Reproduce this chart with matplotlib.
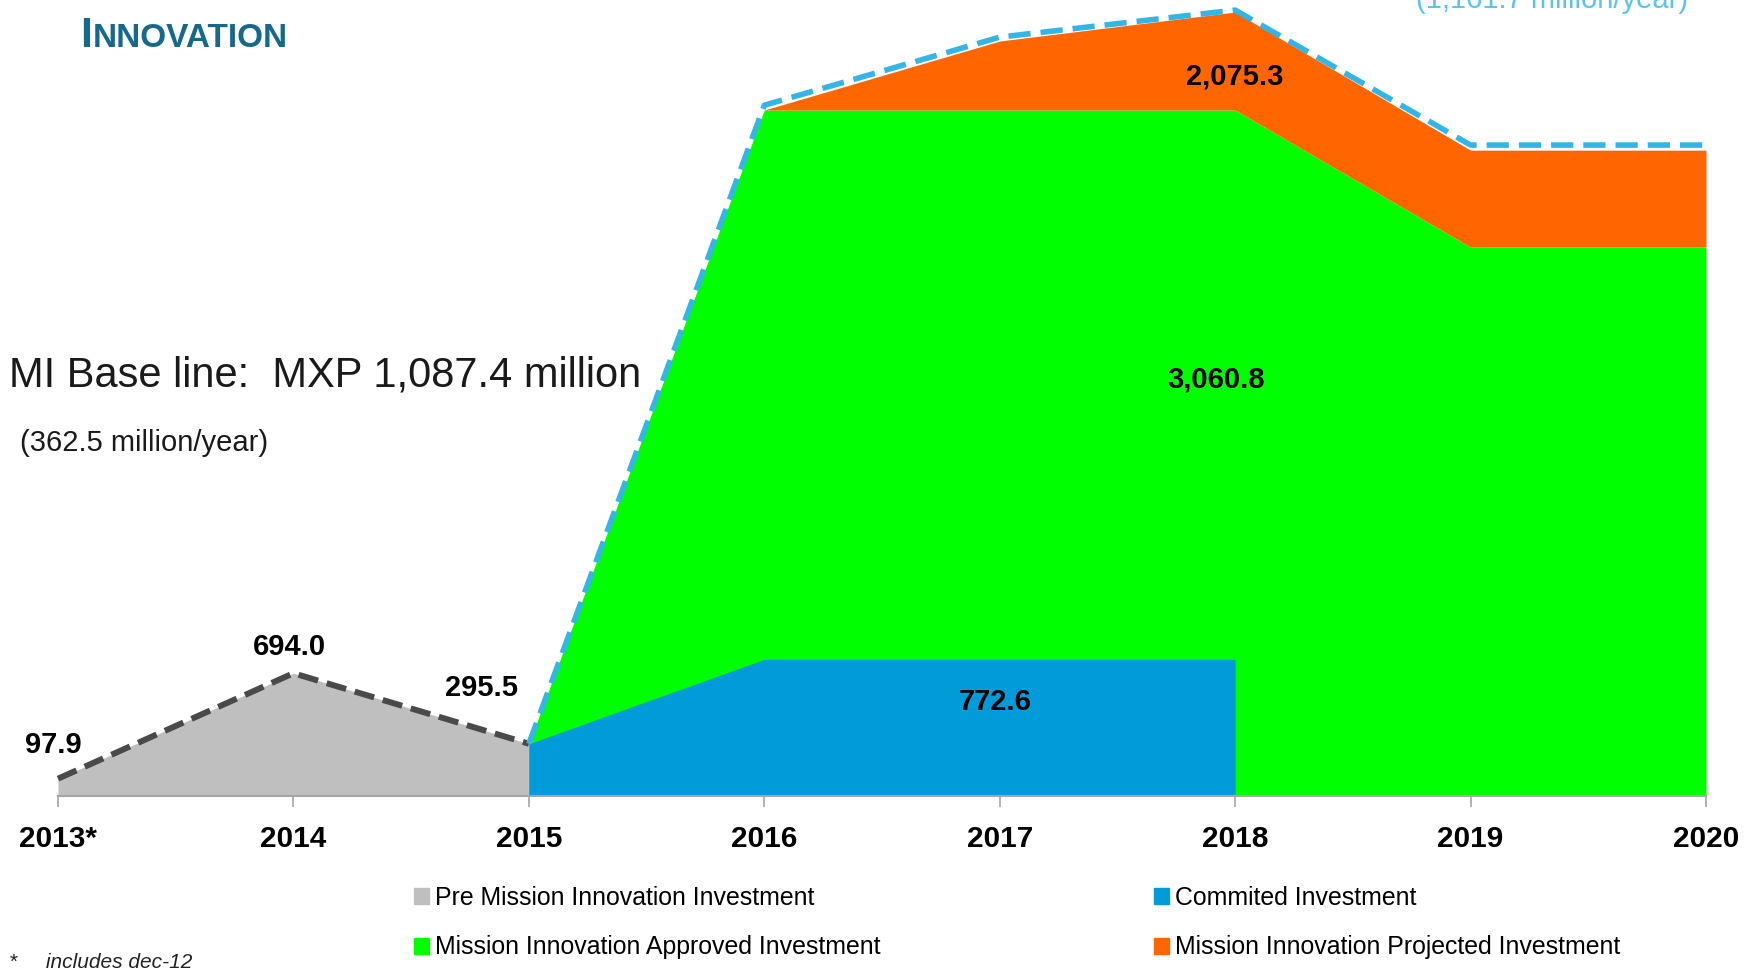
import matplotlib.pyplot as plt
from matplotlib import font_manager
from matplotlib.font_manager import FontProperties
from matplotlib.patches import Patch

# narrow face if one is installed (reference uses an Arial Narrow look)
def find_face(bold=False):
    for f in font_manager.fontManager.ttflist:
        fn = f.fname.lower().split('/')[-1]
        if 'notosans' not in fn or 'condensed' not in fn:
            continue
        if 'semi' in fn.replace('semibold', '') or 'extra' in fn.replace('extrabold', '').replace('extralight', ''):
            continue
        if 'italic' in fn:
            continue
        w = fn.replace('notosans', '').replace('condensed', '').replace('-', '').replace('.ttf', '')
        if bold and w == 'bold':
            return f.fname
        if not bold and w in ('', 'regular'):
            return f.fname
    return None

nar_reg = find_face()
nar_bold = find_face(bold=True)
regular = 'Liberation Sans'

def nfont(size, bold=False):
    path = nar_bold if bold else nar_reg
    if path:
        return FontProperties(fname=path, size=size)
    return FontProperties(family=regular, weight='bold' if bold else 'normal', size=size)

# data (MXP million)
years = [2013, 2014, 2015, 2016, 2017, 2018, 2019, 2020]
year_labels = ['2013*', '2014', '2015', '2016', '2017', '2018', '2019', '2020']

pre_years = [2013, 2014, 2015]
pre_mission = [97.9, 694.0, 295.5]

mi_years = [2015, 2016, 2017, 2018, 2019, 2020]
committed_years = [2015, 2016, 2017, 2018]
committed = [295.5, 772.6, 772.6, 772.6]
approved_top = [295.5, 3878, 3878, 3878, 3103, 3103]
projected_top = [295.5, 3878, 4268, 4432, 3651, 3651]
total_line = [295.5, 3905, 4290, 4443, 3680, 3680]

value_labels = ['97.9', '694.0', '295.5', '772.6', '3,060.8', '2,075.3']

c_gray = '#bfbfbf'
c_blue = '#009bd8'
c_green = '#00ff00'
c_orange = '#ff6600'
c_cyan = '#33b5e6'
c_dark = '#4a4a4a'

fig = plt.figure(figsize=(17.48, 9.73), dpi=100)
renderer = fig.canvas.get_renderer()

def fit(s, target_px, bold=False):
    t = fig.text(0, 0, s, fontproperties=nfont(20, bold))
    w = t.get_window_extent(renderer).width
    t.remove()
    return 20 * target_px / w

tick_size = fit('2014', 66, bold=True)
lab_size = fit('694.0', 73, bold=True)
leg_size = fit('Pre Mission Innovation Investment', 380)

ax = fig.add_axes([58/1748, 1-796/973, (1706-58)/1748, 796/973])

ax.fill_between(pre_years, 0, pre_mission, color=c_gray, lw=0, zorder=1)
ax.fill_between(mi_years, 0, approved_top, color=c_green, lw=0, zorder=2)
ax.fill_between(mi_years, approved_top, projected_top, color=c_orange, lw=0, zorder=2)
ax.fill_between(committed_years, 0, committed, color=c_blue, lw=0, zorder=3)

ax.plot(pre_years, pre_mission, color=c_dark, lw=4.3, dashes=(3.4, 1.5), zorder=5,
        solid_capstyle='butt', clip_on=False)
ax.plot(mi_years, total_line, color=c_cyan, lw=4, dashes=(4, 1.8), zorder=5, clip_on=False)

ax.set_xlim(2013, 2020)
ax.set_ylim(0, 4500)
for s in ['top', 'left', 'right']:
    ax.spines[s].set_visible(False)
ax.spines['bottom'].set_color('#a6a6a6')
ax.spines['bottom'].set_linewidth(1.5)
ax.spines['bottom'].set_zorder(6)
ax.set_yticks([])
ax.set_xticks(years)
ax.set_xticklabels(year_labels, fontproperties=nfont(tick_size, bold=True))
ax.tick_params(axis='x', direction='out', length=8, width=1.2, color='#a6a6a6', pad=13)

# value labels
lab_kw = dict(fontproperties=nfont(lab_size, bold=True), ha='center', va='center', zorder=7)
ax.text(2012.98, 288, value_labels[0], **lab_kw)
ax.text(2013.985, 842, value_labels[1], **lab_kw)
ax.text(2014.8, 610, value_labels[2], **lab_kw)
ax.text(2016.98, 531, value_labels[3], **lab_kw)
ax.text(2017.92, 2357, value_labels[4], **lab_kw)
ax.text(2018.0, 4070, value_labels[5], **lab_kw)

# annotations
fig.text(9/1748, 1-376/973, 'MI Base line:  MXP 1,087.4 million', fontfamily=regular,
         fontsize=30, color='#1a1a1a', ha='left', va='center')
fig.text(20/1748, 1-443/973, '(362.5 million/year)', fontfamily=regular,
         fontsize=21, color='#1a1a1a', ha='left', va='center')
fig.text(1416/1748, 1-8/973, '(1,161.7 million/year)', fontfamily=regular,
         fontsize=21, color='#5bc4ec', ha='left', va='baseline')
fig.text(9/1748, 1-968/973, '*     includes dec-12', fontfamily=regular, style='italic',
         fontsize=15, color='#222222', ha='left', va='baseline')

# small-caps title
t1 = fig.text(80/1748, 1-47/973, 'I', fontfamily=regular, fontweight='bold',
              fontsize=31, color='#17698c', ha='left', va='baseline')
bb = t1.get_window_extent(renderer)
fig.text((bb.x1 + 1)/1748, 1-47/973, 'NNOVATION', fontfamily=regular, fontweight='bold',
         fontsize=24, color='#17698c', ha='left', va='baseline')

# legend, two columns
leg_kw = dict(loc='upper left', frameon=False, borderpad=0, borderaxespad=0,
              handlelength=0.6, handleheight=0.6, handletextpad=0.25, labelspacing=1.02,
              prop=nfont(leg_size))
h1 = [Patch(color=c_gray, label='Pre Mission Innovation Investment'),
      Patch(color=c_green, label='Mission Innovation Approved Investment')]
h2 = [Patch(color=c_blue, label='Commited Investment'),
      Patch(color=c_orange, label='Mission Innovation Projected Investment')]
fig.legend(handles=h1, bbox_to_anchor=(414/1748, 1-886/973), **leg_kw)
fig.legend(handles=h2, bbox_to_anchor=(1154/1748, 1-886/973), **leg_kw)

fig.savefig('out.png', dpi=100)
